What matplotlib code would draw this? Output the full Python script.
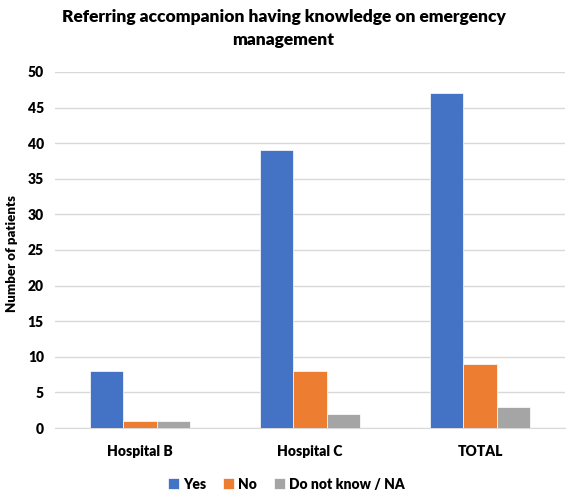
import matplotlib
matplotlib.use("Agg")
import matplotlib.pyplot as plt
import numpy as np

plt.rcParams['font.family'] = ['Lato', 'DejaVu Sans']

categories = ["Hospital B", "Hospital C", "TOTAL"]
series_names = ["Yes", "No", "Do not know / NA"]
yes_vals = [8, 39, 47]
no_vals = [1, 8, 9]
dk_vals = [1, 2, 3]
colors = ["#4472C4", "#ED7D31", "#A5A5A5"]

fig = plt.figure(figsize=(5.67, 4.96), dpi=100)
ax = fig.add_axes([0.097, 0.137, 0.8995, 0.718])

x = np.arange(len(categories))
width = 0.195
for i, (vals, name, col) in enumerate(zip([yes_vals, no_vals, dk_vals], series_names, colors)):
    ax.bar(x + (i - 1) * width, vals, width, color=col, label=name,
           edgecolor="white", linewidth=0.5, zorder=3)

ax.set_xlim(-0.5, 2.5)
ax.set_ylim(0, 50)
ax.set_yticks(range(0, 51, 5))
ax.set_xticks(x)
ax.set_xticklabels(categories)
ax.grid(axis="y", color="#D9D9D9", linewidth=1, zorder=0)
for s in ["top", "right", "left"]:
    ax.spines[s].set_visible(False)
ax.spines["bottom"].set_color("#D9D9D9")
ax.tick_params(axis="both", length=0, labelsize=10, pad=8)
for lab in ax.get_xticklabels() + ax.get_yticklabels():
    lab.set_fontweight("heavy")
ax.tick_params(axis="x", pad=12)

ax.set_ylabel("Number of patients", fontsize=9.5, fontweight="heavy")
ax.yaxis.set_label_coords(-0.072, 0.49)

fig.text(0.5, 0.942, "Referring accompanion having knowledge on emergency\nmanagement",
         ha="center", va="center", fontsize=12.5, fontweight="heavy", linespacing=1.55)

leg = fig.legend(loc="center", bbox_to_anchor=(0.505, 0.024), ncol=3, frameon=False,
                 fontsize=10, handlelength=0.8, handleheight=0.8, handletextpad=0.3,
                 columnspacing=1.2)
for t in leg.get_texts():
    t.set_fontweight("heavy")

fig.savefig("out.png", dpi=100)
